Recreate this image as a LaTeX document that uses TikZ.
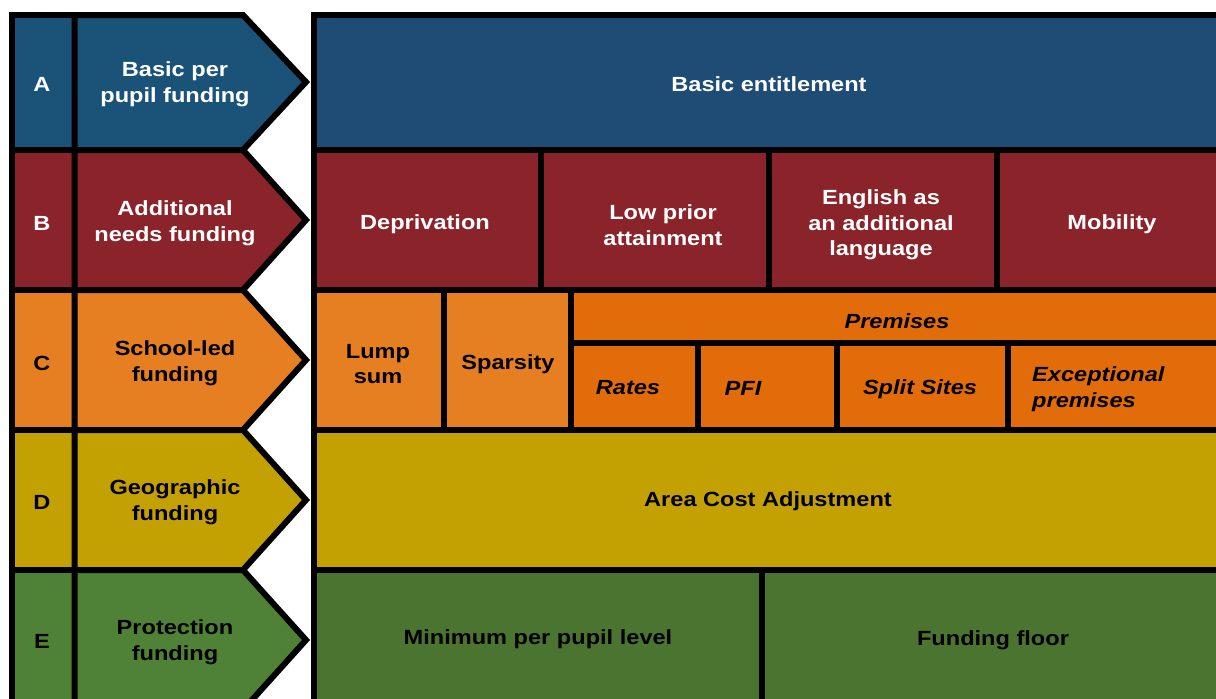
\documentclass[tikz,border=0pt]{standalone}
\usepackage{fontspec}
\setmainfont{Liberation Sans}[FakeStretch=1.15]
\definecolor{blueL}{HTML}{1A5278}
\definecolor{blueR}{HTML}{1E4C75}
\definecolor{redC}{HTML}{8A242A}
\definecolor{orgL}{HTML}{E67E22}
\definecolor{orgP}{HTML}{E36C0A}
\definecolor{yelC}{HTML}{C4A102}
\definecolor{grnL}{HTML}{4F8236}
\definecolor{grnR}{HTML}{4A7430}
\tikzset{
  cellbox/.style={draw=black, line width=6pt, line join=miter},
  txt/.style={font=\fontsize{20.5}{25.5}\selectfont\bfseries, align=center, inner sep=0pt, yshift=-2pt},
  wtxt/.style={txt, text=white},
  btxt/.style={txt, text=black},
  itxt/.style={txt, text=black, font=\fontsize{20.5}{25.5}\selectfont\bfseries\itshape}
}
\begin{document}
\begin{tikzpicture}[x=1pt, y=-1pt]
\useasboundingbox (0,0) rectangle (1216,699);
\clip (0,0) rectangle (1216,699);
\fill[white] (0,0) rectangle (1216,699);
% ---------- letter column ----------
\draw[cellbox, fill=blueL] (11.5,15) rectangle (74.5,150);
\draw[cellbox, fill=redC]  (11.5,150) rectangle (74.5,290);
\draw[cellbox, fill=orgL]  (11.5,290) rectangle (74.5,430);
\draw[cellbox, fill=yelC]  (11.5,430) rectangle (74.5,570);
\draw[cellbox, fill=grnL]  (11.5,570) rectangle (74.5,712);
% ---------- arrows ----------
\draw[cellbox, fill=blueL] (74.5,15) -- (243,15) -- (306,82) -- (243,150) -- (74.5,150) -- cycle;
\draw[cellbox, fill=redC]  (74.5,150) -- (243,150) -- (306,220) -- (243,290) -- (74.5,290) -- cycle;
\draw[cellbox, fill=orgL]  (74.5,290) -- (243,290) -- (306,360) -- (243,430) -- (74.5,430) -- cycle;
\draw[cellbox, fill=yelC]  (74.5,430) -- (243,430) -- (306,500) -- (243,570) -- (74.5,570) -- cycle;
\draw[cellbox, fill=grnL]  (74.5,570) -- (243,570) -- (306,640) -- (243,710) -- (74.5,710) -- cycle;
% thin outer edge of the left part
\fill[white] (0,0) rectangle (9,699);
\fill[white] (0,0) rectangle (300,12);
\node[wtxt] (la) at (42,82) {A};
\node[wtxt] (lb) at (42,221) {B};
\node[btxt] (lc) at (42,361) {C};
\node[btxt] (ld) at (42,500) {D};
\node[btxt] (le) at (42,639) {E};
\node[wtxt] (aa) at (175,82) {Basic per\\pupil funding};
\node[wtxt] (ab) at (175,221) {Additional\\needs funding};
\node[btxt] (ac) at (175,361) {School-led\\funding};
\node[btxt] (ad) at (175,500) {Geographic\\funding};
\node[btxt] (ae) at (175,640) {Protection\\funding};
% ---------- right panel ----------
% row A
\draw[cellbox, fill=blueR] (314,14.5) rectangle (1224,150);
% row B
\draw[cellbox, fill=redC] (314,150) rectangle (541,290);
\draw[cellbox, fill=redC] (541,150) rectangle (768.5,290);
\draw[cellbox, fill=redC] (768.5,150) rectangle (996.5,290);
\draw[cellbox, fill=redC] (996.5,150) rectangle (1224,290);
% row C
\draw[cellbox, fill=orgL] (314,290) rectangle (443.5,429.5);
\draw[cellbox, fill=orgL] (443.5,290) rectangle (570.5,429.5);
\draw[cellbox, fill=orgP] (570.5,290) rectangle (1224,342.5);
\draw[cellbox, fill=orgP] (570.5,342.5) rectangle (698,429.5);
\draw[cellbox, fill=orgP] (698,342.5) rectangle (837,429.5);
\draw[cellbox, fill=orgP] (837,342.5) rectangle (1007.5,429.5);
\draw[cellbox, fill=orgP] (1007.5,342.5) rectangle (1224,429.5);
% row D
\draw[cellbox, fill=yelC] (314,429.5) rectangle (1224,570);
% row E
\draw[cellbox, fill=grnR] (314,570) rectangle (762,712);
\draw[cellbox, fill=grnR] (762,570) rectangle (1224,712);
% texts
\node[wtxt] (be) at (769,82) {Basic entitlement};
\node[wtxt] (dep) at (425,222) {Deprivation};
\node[wtxt] (lpa) at (663,223) {Low prior\\attainment};
\node[wtxt] (eal) at (881,223) {English as\\an additional\\language};
\node[wtxt] (mob) at (1112,222) {Mobility};
\node[btxt] (lump) at (378,362) {Lump\\sum};
\node[btxt] (spa) at (508,362) {Sparsity};
\node[itxt] (prem) at (897,319) {Premises};
\node[itxt] (rates) at (628,386) {Rates};
\node[itxt] (pfi) at (743,386) {PFI};
\node[itxt] (split) at (920,387) {Split Sites};
\node[itxt, align=left, anchor=west] (exc) at (1032,387) {Exceptional\\premises};
\node[btxt] (aca) at (768,499) {Area Cost Adjustment};
\node[btxt] (mpl) at (538,637) {Minimum per pupil level};
\node[btxt] (ff) at (993,638) {Funding floor};
\end{tikzpicture}
\end{document}
